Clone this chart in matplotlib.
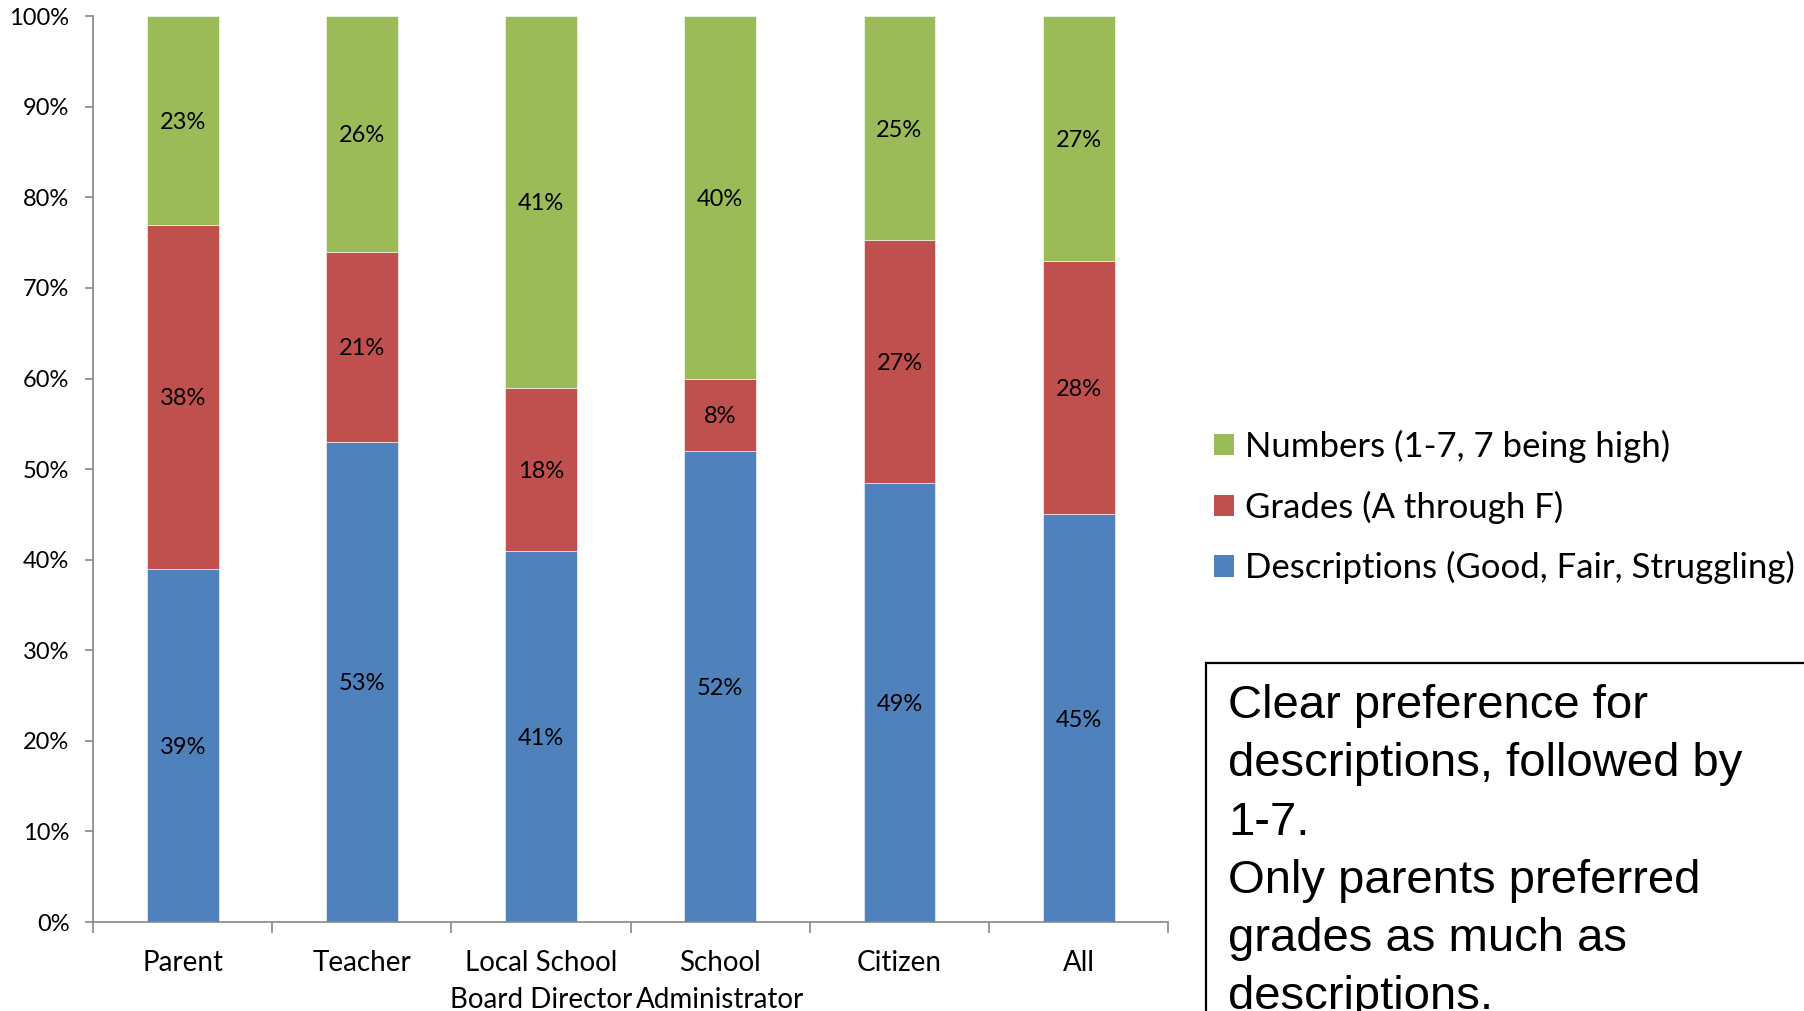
import numpy as np
import matplotlib
matplotlib.use("Agg")
import matplotlib.pyplot as plt
from matplotlib.patches import Rectangle, Patch

# Survey shares (%) per respondent group
grupos = ["Parent", "Teacher", "Local School\nBoard Director", "School\nAdministrator", "Citizen", "All"]
descripciones = [39, 53, 41, 52, 49, 45]
notas = [38, 21, 18, 8, 27, 28]
numeros = [23, 26, 41, 40, 25, 27]

series_nombres = ["Descriptions (Good, Fair, Struggling)", "Grades (A through F)", "Numbers (1-7, 7 being high)"]
colores = ["#4F81BD", "#C0504D", "#9BBB59"]

plt.rcParams["font.family"] = ["Lato", "DejaVu Sans"]

fig = plt.figure(figsize=(18.04, 10.11), dpi=100)
ax = fig.add_axes([0.0516, 0.088, 0.596, 0.896])

datos = np.array([descripciones, notas, numeros], dtype=float)
# 100% stacked: each column scaled to its own total
pct = datos / datos.sum(axis=0) * 100
x = np.arange(len(grupos))
base = np.zeros(len(grupos))
for fila, valores, color in zip(pct, datos, colores):
    ax.bar(x, fila, 0.4, bottom=base, color=color, edgecolor="white", linewidth=0.4)
    for xi, b, h, v in zip(x, base, fila, valores):
        ax.text(xi, b + h / 2, f"{v:.0f}%", ha="center", va="center_baseline", fontsize=17, color="black")
    base += fila

ax.set_xlim(-0.5, len(grupos) - 0.5)
ax.set_ylim(0, 100)
ax.set_yticks(np.arange(0, 101, 10))
ax.set_yticklabels([f"{t}%" for t in range(0, 101, 10)], fontsize=17)

# category names centered, tick marks on the boundaries
ax.set_xticks(x)
ax.set_xticklabels(grupos, fontsize=20, linespacing=1.55, va="top")
ax.set_xticks(np.arange(-0.5, len(grupos)), minor=True)
ax.tick_params(axis="x", which="major", length=0, pad=20)
ax.tick_params(axis="x", which="minor", length=8, width=1.2, color="#868686", direction="out")
ax.tick_params(axis="y", length=6, width=1.2, color="#868686", direction="out", pad=11)

for lado in ["top", "right"]:
    ax.spines[lado].set_visible(False)
for lado in ["left", "bottom"]:
    ax.spines[lado].set_color("#868686")
    ax.spines[lado].set_linewidth(1.2)

# legend: green on top, blue at the bottom
handles = [Patch(facecolor=c) for c in colores[::-1]]
fig.legend(handles, series_nombres[::-1], loc="center left", bbox_to_anchor=(1214 / 1804, 1 - 507 / 1011),
           frameon=False, fontsize=25, handlelength=0.58, handleheight=0.58,
           handletextpad=0.3, labelspacing=0.8, borderpad=0, borderaxespad=0)

# comment box, running off the lower right edge
fig.patches.append(Rectangle((1206 / 1804, -0.05), 0.4, 0.05 + 348 / 1011,
                             transform=fig.transFigure, fill=False,
                             edgecolor="black", linewidth=1.6, clip_on=False))
nota = ("Clear preference for\ndescriptions, followed by\n1-7.\n"
        "Only parents preferred\ngrades as much as\ndescriptions.")
fig.text(1228 / 1804, 1 - 684 / 1011, nota, ha="left", va="top", fontsize=34,
         family="Liberation Sans", linespacing=1.42)

fig.savefig("out.png", dpi=100)
